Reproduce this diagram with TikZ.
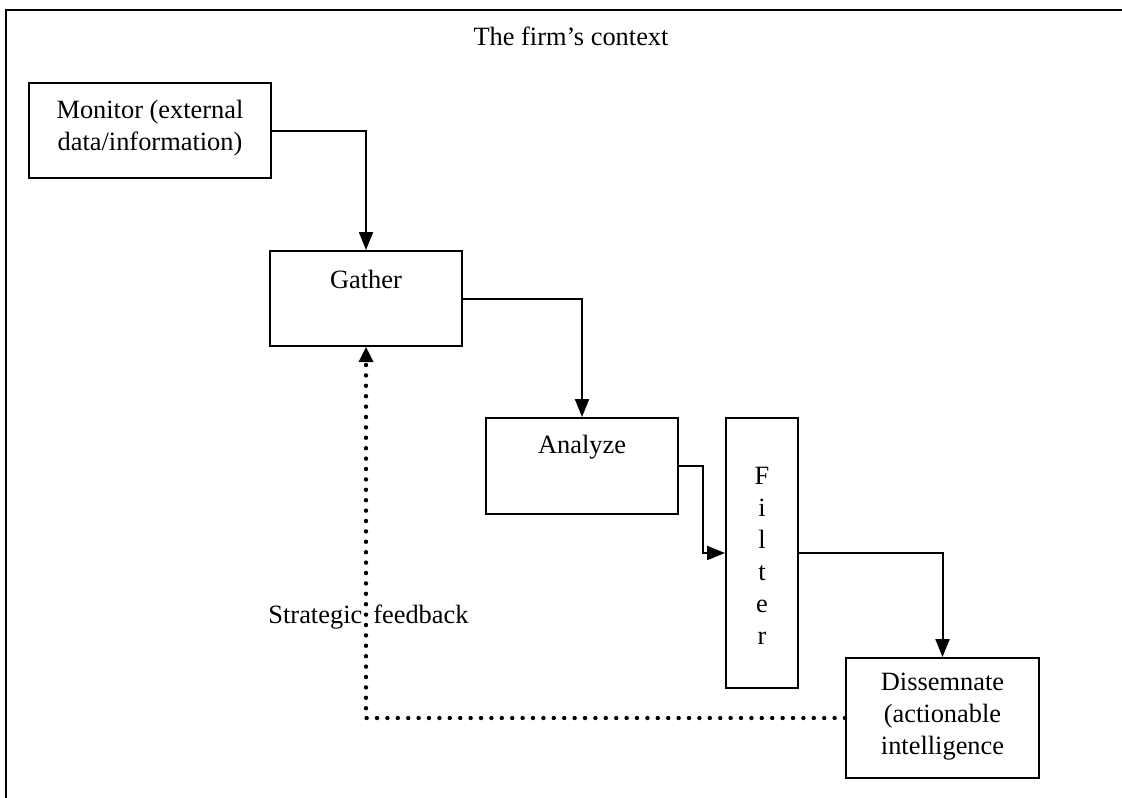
\documentclass[tikz,border=0pt]{standalone}
\usepackage{fontspec}
\setmainfont{Liberation Serif}
\usetikzlibrary{arrows.meta}

\tikzset{
  base/.style={font=\fontsize{13.2}{16}\selectfont, inner sep=0pt},
  box/.style={draw, line width=1pt, rectangle, inner sep=0pt},
  txt/.style={base, align=center},
  flow/.style={line width=1pt, -{Triangle[length=9pt,width=7pt]}},
  fback/.style={line width=2.2pt, line cap=round, dash pattern=on 0pt off 5.2pt,
                -{Triangle[length=7.5pt,width=7.5pt,line width=0pt]}},
}

\begin{document}
\begin{tikzpicture}[x=0.5pt, y=-0.5pt]
  \useasboundingbox (0,0) rectangle (1122,797);
  \clip (0,0) rectangle (1122,797);

  % outer frame of the context area
  \draw[line width=1.2pt] (6,1200) -- (6,10) -- (1400,10);
  \node[base, anchor=base] (title) at (571,46) {The firm’s context};

  % process boxes
  \node[box, minimum width=121pt, minimum height=47.5pt] (monitor) at (150,130.5) {};
  \node[txt] (monitortxt) at (150,128) {Monitor (external\\data/information)};

  \node[box, minimum width=96pt, minimum height=47.5pt] (gather) at (366,298.5) {};
  \node[txt] (gathertxt) at (366,279) {Gather};

  \node[box, minimum width=96pt, minimum height=48pt] (analyze) at (582,466) {};
  \node[txt] (analyzetxt) at (582,447) {Analyze};

  \node[box, minimum width=36pt, minimum height=135pt] (filter) at (762,553) {};
  \node[txt] (filtertxt) at (762,556) {F\\i\\l\\t\\e\\r};

  \node[box, minimum width=96.5pt, minimum height=60pt] (dissem) at (942.5,718) {};
  \node[txt] (dissemtxt) at (942.5,717) {Dissemnate\\(actionable\\intelligence};

  % main flow
  \draw[flow] (monitor.east) -| (gather.north);
  \draw[flow] (gather.east) -| (analyze.north);
  \draw[flow] (analyze.east) -- ++(24,0) |- (filter.west);
  \draw[flow] (filter.east) -| (dissem.north);

  % feedback loop
  \draw[fback] (dissem.west) -| (gather.south);
  \node[base, anchor=base] (fblabel) at (368.5,623) {Strategic\hspace{5.5pt}feedback};
\end{tikzpicture}
\end{document}
